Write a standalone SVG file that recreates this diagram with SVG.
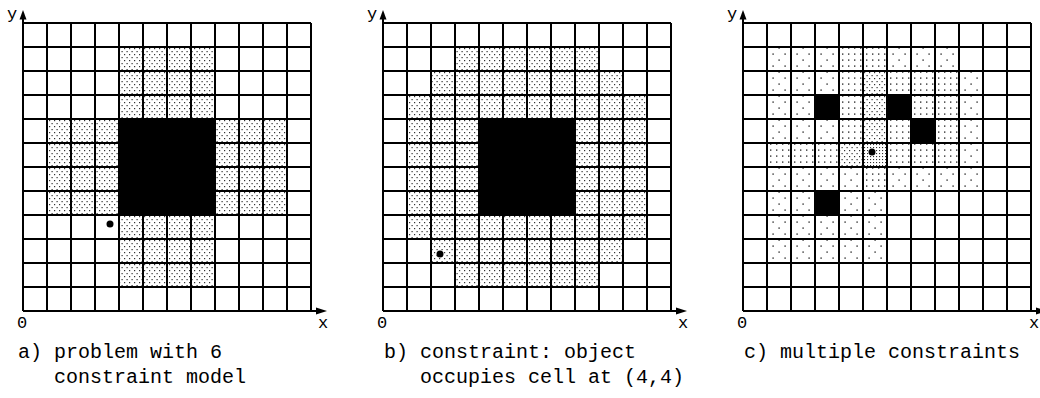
<svg xmlns="http://www.w3.org/2000/svg" width="1040" height="398" viewBox="0 0 1040 398">
<style>
.bg{fill:#fff}
.grid{fill:none;stroke:#000;stroke-width:2}
.blk{fill:#000}
.d{fill:url(#pDense)}
.s{fill:url(#pSparse)}
.m{fill:url(#pMed)}
.v{fill:url(#pVery)}
.ax{fill:#000}
.lbl{font-family:"Liberation Mono","Courier New",monospace;font-size:17px;fill:#000}
.cap{font-family:"Liberation Mono","Courier New",monospace;font-size:20px;fill:#000}
</style>
<defs>
<pattern id="pDense" patternUnits="userSpaceOnUse" x="0" y="0" width="5" height="6">
<rect x="1" y="1" width="1.2" height="1.2" fill="#333"/>
<rect x="3.5" y="4" width="1.2" height="1.2" fill="#333"/>
</pattern>
<pattern id="pSparse" patternUnits="userSpaceOnUse" x="0" y="0" width="12" height="12">
<rect x="5.4" y="6.4" width="1.4" height="1.4" fill="#333"/>
<rect x="-0.6" y="0.4" width="1.4" height="1.4" fill="#333"/>
<rect x="11.4" y="0.4" width="1.4" height="1.4" fill="#333"/>
</pattern>
<pattern id="pMed" patternUnits="userSpaceOnUse" x="0" y="0" width="6" height="6">
<rect x="3" y="0.4" width="1.4" height="1.4" fill="#333"/>
</pattern>
<pattern id="pVery" patternUnits="userSpaceOnUse" x="0" y="0" width="3" height="3">
<rect x="1" y="1" width="1.1" height="1.1" fill="#333"/>
</pattern>
<g id="gridlines">
<path class="grid" d="M0 0V288M24 0V288M48 0V288M72 0V288M96 0V288M120 0V288M144 0V288M168 0V288M192 0V288M216 0V288M240 0V288M264 0V288M288 0V288M0 0H288M0 24H288M0 48H288M0 72H288M0 96H288M0 120H288M0 144H288M0 168H288M0 192H288M0 216H288M0 240H288M0 264H288M0 288H293"/>
<polygon class="ax" points="293,284.5 304,288 293,291.5"/>
<polygon class="ax" points="-3.5,-3.5 0,-13 3.5,-3.5"/>
<path class="grid" d="M0 0V-4"/>
</g>
</defs>

<g id="panel-a" transform="translate(23,23)">
<rect class="bg" x="0" y="0" width="288" height="288"/>
<rect class="d" x="96" y="24" width="96" height="72"/>
<rect class="d" x="24" y="96" width="72" height="96"/>
<rect class="d" x="192" y="96" width="72" height="96"/>
<rect class="d" x="96" y="192" width="96" height="72"/>
<rect class="blk" x="96" y="96" width="96" height="96"/>
<use href="#gridlines"/>
<circle cx="87" cy="201" r="3.5"/>
<text class="lbl" x="-16" y="-4">y</text>
<text class="lbl" x="-6" y="305">0</text>
<text class="lbl" x="295" y="305">x</text>
</g>

<g id="panel-b" transform="translate(383,23)">
<rect class="bg" x="0" y="0" width="288" height="288"/>
<rect class="d" x="72" y="24" width="144" height="24"/>
<rect class="d" x="48" y="48" width="192" height="24"/>
<rect class="d" x="24" y="72" width="240" height="24"/>
<rect class="d" x="24" y="96" width="72" height="96"/>
<rect class="d" x="192" y="96" width="72" height="96"/>
<rect class="d" x="24" y="192" width="240" height="24"/>
<rect class="d" x="48" y="216" width="192" height="24"/>
<rect class="d" x="72" y="240" width="144" height="24"/>
<rect class="blk" x="96" y="96" width="96" height="96"/>
<use href="#gridlines"/>
<circle cx="57" cy="231" r="3.5"/>
<text class="lbl" x="-16" y="-4">y</text>
<text class="lbl" x="-6" y="305">0</text>
<text class="lbl" x="295" y="305">x</text>
</g>

<g id="panel-c" transform="translate(743,23)">
<rect class="bg" x="0" y="0" width="288" height="288"/>
<rect class="s" x="24" y="24" width="72" height="24"/>
<rect class="m" x="96" y="24" width="48" height="24"/>
<rect class="s" x="144" y="24" width="72" height="24"/>
<rect class="s" x="24" y="48" width="72" height="24"/>
<rect class="m" x="96" y="48" width="24" height="24"/>
<rect class="d" x="120" y="48" width="24" height="24"/>
<rect class="m" x="144" y="48" width="72" height="24"/>
<rect class="s" x="216" y="48" width="24" height="24"/>
<rect class="s" x="24" y="72" width="48" height="24"/>
<rect class="blk" x="72" y="72" width="24" height="24"/>
<rect class="m" x="96" y="72" width="24" height="24"/>
<rect class="d" x="120" y="72" width="24" height="24"/>
<rect class="blk" x="144" y="72" width="24" height="24"/>
<rect class="m" x="168" y="72" width="48" height="24"/>
<rect class="s" x="216" y="72" width="24" height="24"/>
<rect class="s" x="24" y="96" width="72" height="24"/>
<rect class="m" x="96" y="96" width="24" height="24"/>
<rect class="d" x="120" y="96" width="24" height="24"/>
<rect class="m" x="144" y="96" width="24" height="24"/>
<rect class="blk" x="168" y="96" width="24" height="24"/>
<rect class="m" x="192" y="96" width="24" height="24"/>
<rect class="s" x="216" y="96" width="24" height="24"/>
<rect class="m" x="24" y="120" width="72" height="24"/>
<rect class="d" x="96" y="120" width="24" height="24"/>
<rect class="v" x="120" y="120" width="24" height="24"/>
<rect class="m" x="144" y="120" width="72" height="24"/>
<rect class="s" x="216" y="120" width="24" height="24"/>
<rect class="s" x="24" y="144" width="96" height="24"/>
<rect class="m" x="120" y="144" width="24" height="24"/>
<rect class="s" x="144" y="144" width="96" height="24"/>
<rect class="s" x="24" y="168" width="48" height="24"/>
<rect class="blk" x="72" y="168" width="24" height="24"/>
<rect class="s" x="96" y="168" width="48" height="24"/>
<rect class="s" x="24" y="192" width="120" height="48"/>
<use href="#gridlines"/>
<circle cx="129" cy="129" r="3.5"/>
<text class="lbl" x="-16" y="-4">y</text>
<text class="lbl" x="-6" y="305">0</text>
<text class="lbl" x="286" y="305">x</text>
</g>

<g id="captions">
<text class="cap" x="18" y="358">a) problem with 6</text>
<text class="cap" x="54" y="383">constraint model</text>
<text class="cap" x="384" y="358">b) constraint: object</text>
<text class="cap" x="420" y="383">occupies cell at (4,4)</text>
<text class="cap" x="744" y="358">c) multiple constraints</text>
</g>
</svg>
